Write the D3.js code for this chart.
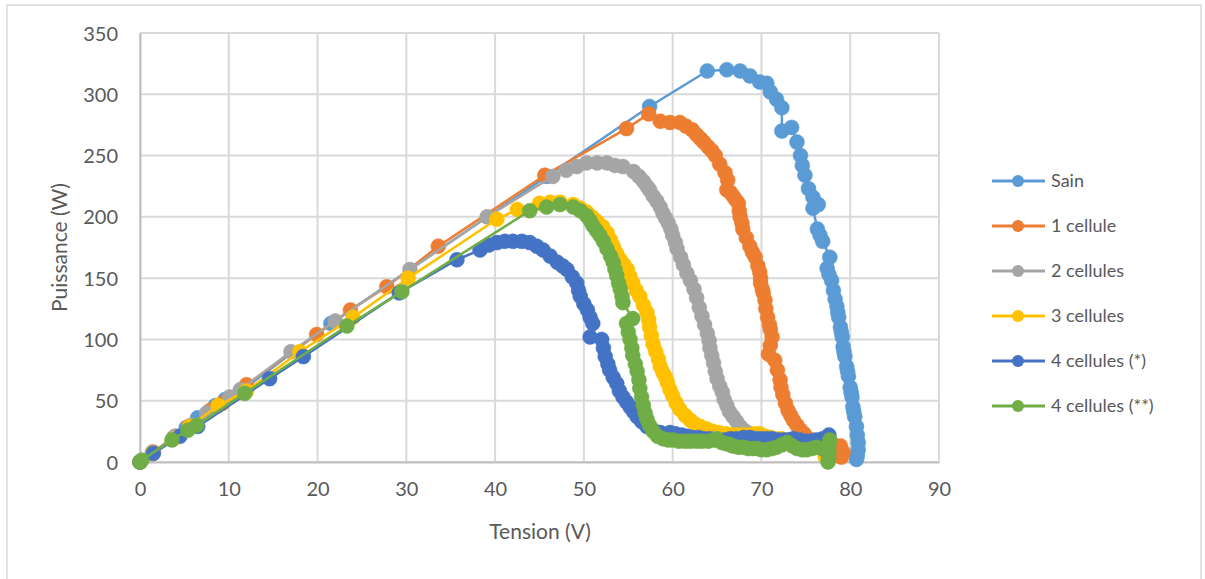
<!DOCTYPE html>
<html>
<head>
<meta charset="utf-8">
<script src="https://cdn.jsdelivr.net/npm/d3@7"></script>
<style>
  html, body { margin: 0; padding: 0; background: #fff; }
  svg { display: block; font-family: Lato, "Open Sans", sans-serif; }
</style>
</head>
<body>
<svg id="chart" width="1205" height="579"></svg>
<script>
// ---- Data (Tension V, Puissance W) ----
const seriesNames = ["Sain", "1 cellule", "2 cellules", "3 cellules", "4 cellules (*)", "4 cellules (**)"];
const seriesColors = ["#5B9BD5", "#ED7D31", "#A5A5A5", "#FFC000", "#4472C4", "#70AD47"];

const sain = [[0,0],[1.4,8],[3.8,20],[5.2,28],[6.5,36],[8.5,46],[9.6,51],[11.8,60],[21.5,113],[45.8,233],[57.4,290],[63.9,319],[66.1,320],[67.6,319],[68.7,315],[69.8,310],[70.6,309],[71.0,302],[71.7,296],[72.3,289],[72.3,270],[73.4,273],[74.0,261],[74.4,250],[74.6,242],[74.9,234],[75.3,223],[75.8,216],[76.4,210],[75.8,207],[76.3,190],[76.6,185],[76.9,180],[77.7,167],[77.4,158],[77.6,153],[77.9,148],[78.1,140],[78.3,133],[78.5,127],[78.6,122],[78.7,118],[78.9,110],[79.0,106],[79.1,102],[79.2,94],[79.3,90],[79.4,86],[79.6,78],[79.7,74],[79.8,70],[80.0,61],[80.1,57],[80.2,53],[80.3,45],[80.4,41],[80.5,37],[80.7,29],[80.8,22],[80.9,16],[80.9,10],[80.8,5],[80.7,2]];

const cellule1 = [[0,0],[1.5,8],[4.0,21],[5.5,29],[7.9,42],[9.3,48],[12.0,63],[19.9,104],[23.7,124],[27.8,143],[33.6,176],[45.6,234],[54.8,272],[57.3,284],[58.6,278],[59.7,277],[60.8,277],[61.5,274],[62.2,271],[62.7,267],[63.1,264],[63.5,261],[64.0,257],[64.4,254],[64.8,250],[65.3,243],[65.9,236],[66.2,230],[66.1,222],[66.5,220],[66.8,217],[67.1,214],[67.4,211],[67.5,205],[67.6,200],[67.8,195],[67.9,190],[68.3,183],[68.7,176],[69.0,171],[69.3,167],[69.6,160],[69.8,155],[69.9,150],[69.9,146],[70.1,141],[70.2,138],[70.4,132],[70.5,125],[70.7,118],[70.9,112],[71.0,108],[71.2,102],[71.0,95],[70.8,88],[71.5,83],[71.8,75],[72.1,67],[72.2,61],[72.4,55],[72.7,48],[73.0,42],[73.3,38],[73.6,34],[74.0,30],[74.4,26],[74.8,23],[75.1,20],[75.6,18],[76.2,17],[76.8,16],[77.4,15],[78.1,14],[78.9,13],[79.2,8],[79.0,4]];

const cellule2 = [[0,0],[1.4,7],[4.0,21],[5.8,30],[7.5,40],[10.1,53],[11.3,59],[17.0,90],[22.0,115],[30.4,157],[39.1,200],[46.5,233],[48.0,238],[49.2,241],[50.3,244],[51.5,244],[52.6,244],[53.5,242],[54.4,241],[55.6,237],[56.2,233],[56.7,229],[57.1,225],[57.4,222],[57.8,217],[58.2,213],[58.6,208],[58.9,203],[59.2,199],[59.5,195],[59.8,190],[60.0,185],[60.3,179],[60.5,174],[60.9,167],[61.2,161],[61.6,154],[62.0,148],[62.4,141],[62.7,134],[63.0,126],[63.3,119],[63.6,112],[63.9,105],[64.1,99],[64.2,93],[64.4,87],[64.6,81],[64.8,74],[65.0,68],[65.3,62],[65.6,57],[65.8,51],[66.1,46],[66.4,41],[66.8,37],[67.2,33],[67.6,29],[68.0,26],[68.4,24],[69.0,22],[69.5,20],[70.2,19],[71.0,18],[71.7,18],[72.4,17],[73.0,17],[73.7,17],[74.4,16],[75.0,16],[75.7,16],[76.4,15],[77.0,15],[77.5,8]];

const cellule3 = [[0,0],[1.4,7],[3.8,19],[5.6,29],[8.8,46],[12.0,58],[18.0,90],[24.0,118],[30.2,150],[40.2,198],[42.5,206],[45.0,211],[46.2,212],[47.3,212],[48.8,210],[49.6,207],[50.3,204],[50.9,200],[51.5,196],[52.1,192],[52.6,187],[53.0,181],[53.3,176],[53.7,170],[54.1,165],[54.5,161],[54.9,157],[55.2,151],[55.5,146],[55.9,140],[56.3,135],[56.7,128],[57.1,122],[57.3,116],[57.4,110],[57.6,103],[57.8,96],[58.1,90],[58.4,84],[58.6,78],[58.9,73],[59.2,69],[59.4,65],[59.7,59],[60.0,54],[60.4,48],[60.8,43],[61.4,38],[62.0,34],[62.5,31],[63.1,29],[63.8,27],[64.5,25],[65.2,24],[66.0,23],[66.6,22],[67.2,22],[67.9,22],[68.5,22],[69.2,23],[69.8,23],[70.4,21],[71.0,20],[71.6,19],[72.2,19],[72.8,18],[73.4,18],[74.0,17],[74.6,17],[75.2,16],[75.8,16],[76.5,15],[77.0,13],[77.3,10],[77.2,4]];

const cellule4a = [[0,0],[1.5,7],[4.5,21],[6.5,29],[14.6,68],[18.4,86],[29.2,138],[35.7,165],[38.3,173],[39.3,177],[40.2,179],[41.1,180],[42.0,180],[43.0,180],[43.9,179],[44.7,176],[45.4,173],[46.2,168],[47.0,163],[47.6,160],[48.1,157],[48.7,151],[49.2,146],[49.4,140],[49.6,135],[50.0,129],[50.4,124],[50.7,118],[51.0,113],[50.7,102],[52.0,100],[52.2,93],[52.4,86],[52.7,80],[52.9,75],[53.3,69],[53.7,64],[54.0,58],[54.4,53],[54.8,49],[55.2,45],[55.6,41],[56.0,37],[56.5,33],[57.1,29],[57.8,26],[58.6,24],[59.7,24],[60.3,23],[61.0,22],[61.6,21],[62.2,20],[62.9,20],[63.5,19],[64.2,19],[65.0,18],[65.8,18],[66.5,19],[67.2,19],[68.0,20],[68.7,20],[69.4,19],[70.0,19],[70.6,19],[71.2,19],[71.9,18],[72.5,18],[73.1,18],[73.6,19],[74.3,18],[75.0,17],[75.6,17],[76.2,18],[76.9,19],[77.6,22],[77.5,14],[77.4,8]];

const cellule4b = [[0,0],[0.2,1.5],[3.6,18],[5.4,26],[6.4,30],[11.8,56],[23.3,111],[29.5,139],[43.9,205],[45.8,208],[47.3,210],[48.8,208],[49.6,205],[50.3,201],[50.7,197],[51.0,193],[51.4,189],[51.8,185],[52.2,180],[52.6,174],[53.0,168],[53.3,163],[53.5,157],[53.7,152],[53.9,146],[54.1,141],[54.3,135],[54.4,130],[55.5,117],[54.8,113],[55.0,106],[55.2,100],[55.4,93],[55.5,87],[55.8,80],[56.0,74],[56.2,67],[56.3,60],[56.5,53],[56.7,46],[56.9,40],[57.1,35],[57.4,30],[57.8,25],[58.3,21],[58.9,19],[59.5,18],[60.0,18],[60.7,17],[61.4,17],[62.0,17],[62.7,17],[63.3,17],[64.0,17],[64.6,18],[65.0,19],[65.5,16],[66.0,15],[66.5,14],[66.8,13],[67.4,12],[68.0,12],[68.5,11],[69.0,11],[69.5,11],[70.0,10],[70.6,10],[71.2,11],[71.7,12],[72.3,14],[72.9,16],[73.5,13],[74.0,11],[74.6,10],[75.1,10],[75.7,11],[76.2,12],[76.8,11],[77.5,10],[77.7,18],[77.6,13],[77.6,8],[77.6,3],[77.5,0]];

const allSeries = [sain, cellule1, cellule2, cellule3, cellule4a, cellule4b];

const xTicks = [0,10,20,30,40,50,60,70,80,90];
const yTicks = [0,50,100,150,200,250,300,350];
const xTitle = "Tension (V)";
const yTitle = "Puissance (W)";

// ---- Layout ----
const svg = d3.select("#chart");
const plot = { left: 140, right: 939, top: 33, bottom: 462 };
const x = d3.scaleLinear().domain([0, 90]).range([plot.left, plot.right]);
const y = d3.scaleLinear().domain([0, 350]).range([plot.bottom, plot.top]);

// outer border
svg.append("rect").attr("x", 7).attr("y", 5).attr("width", 1194).attr("height", 600)
  .attr("fill", "#fff").attr("stroke", "#D9D9D9").attr("stroke-width", 1.5);

// gridlines
const grid = svg.append("g");
grid.selectAll("line.v").data(xTicks).join("line")
  .attr("x1", d => x(d)).attr("x2", d => x(d))
  .attr("y1", plot.top).attr("y2", plot.bottom)
  .attr("stroke", "#D9D9D9").attr("stroke-width", 2);
grid.selectAll("line.h").data(yTicks).join("line")
  .attr("x1", plot.left).attr("x2", plot.right)
  .attr("y1", d => y(d)).attr("y2", d => y(d))
  .attr("stroke", "#D9D9D9").attr("stroke-width", 2);

// axes
const xAxis = d3.axisBottom(x).tickValues(xTicks).tickSize(0).tickPadding(20);
const yAxis = d3.axisLeft(y).tickValues(yTicks).tickSize(0).tickPadding(22);
const gx = svg.append("g").attr("transform", `translate(0,${plot.bottom})`).call(xAxis);
const gy = svg.append("g").attr("transform", `translate(${plot.left},0)`).call(yAxis);
[gx, gy].forEach(g => {
  g.select(".domain").attr("stroke", "#BFBFBF").attr("stroke-width", 2);
  g.selectAll("text").attr("fill", "#595959").style("font-size", "20px").style("font-family", "Lato, sans-serif");
});
gy.selectAll("text").attr("dy", "0.35em");

// axis titles
svg.append("text").attr("x", 540).attr("y", 539).attr("text-anchor", "middle")
  .attr("fill", "#595959").style("font-size", "21px").text(xTitle);
svg.append("text").attr("transform", `translate(67,${(plot.top + plot.bottom) / 2}) rotate(-90)`)
  .attr("text-anchor", "middle").attr("fill", "#595959").style("font-size", "21px").text(yTitle);

// series
const line = d3.line().x(d => x(d[0])).y(d => y(d[1]));
allSeries.forEach((data, i) => {
  const g = svg.append("g");
  g.append("path").datum(data).attr("d", line).attr("fill", "none")
    .attr("stroke", seriesColors[i]).attr("stroke-width", 2.5).attr("stroke-linejoin", "round");
  g.selectAll("circle").data(data).join("circle")
    .attr("cx", d => x(d[0])).attr("cy", d => y(d[1])).attr("r", 7.5)
    .attr("fill", seriesColors[i]).attr("stroke", seriesColors[i]).attr("stroke-width", 0.5);
});

// legend
const legend = svg.append("g");
const legY0 = 181, legStep = 45;
seriesNames.forEach((name, i) => {
  const ly = legY0 + i * legStep;
  legend.append("line").attr("x1", 992).attr("x2", 1045).attr("y1", ly).attr("y2", ly)
    .attr("stroke", seriesColors[i]).attr("stroke-width", 3);
  legend.append("circle").attr("cx", 1018).attr("cy", ly).attr("r", 6)
    .attr("fill", seriesColors[i]);
  legend.append("text").attr("x", 1051).attr("y", ly).attr("dy", "0.35em")
    .attr("fill", "#595959").style("font-size", "18px").text(name);
});
</script>
</body>
</html>
